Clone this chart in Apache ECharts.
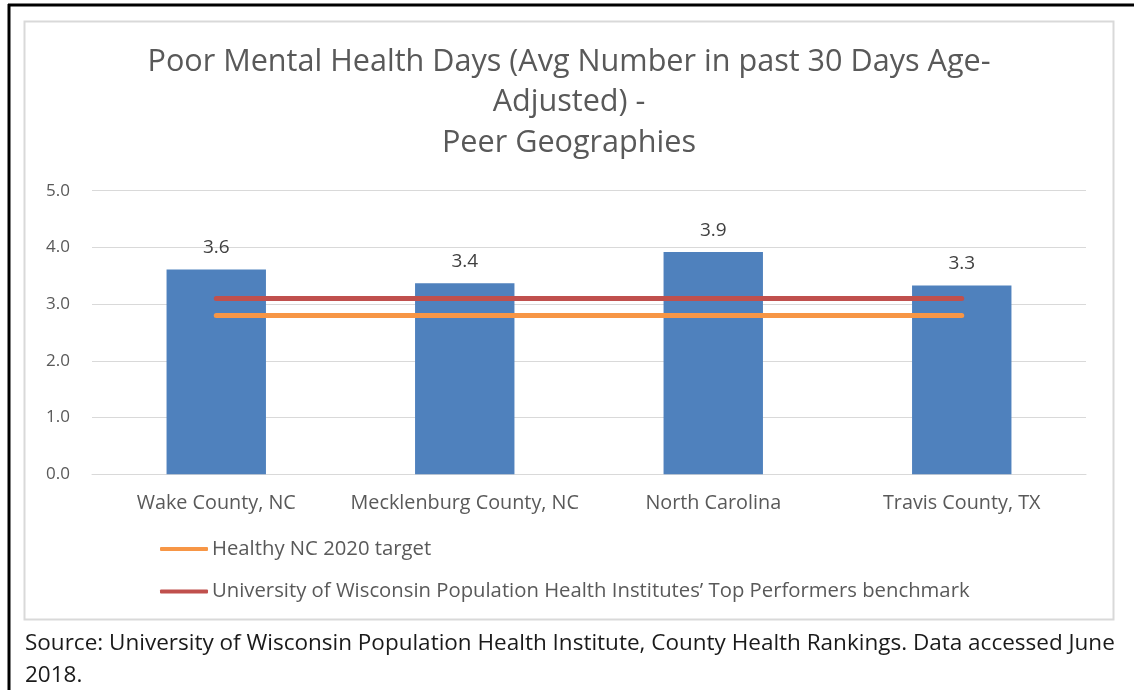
<!DOCTYPE html>
<html>
<head>
<meta charset="utf-8">
<script src="https://cdn.jsdelivr.net/npm/echarts@6/dist/echarts.min.js"></script>
<style>
html,body{margin:0;padding:0;background:#fff;}
#chart{width:1134px;height:690px;}
</style>
</head>
<body>
<div id="chart"></div>
<script>
var categories = ['Wake County, NC', 'Mecklenburg County, NC', 'North Carolina', 'Travis County, TX'];
var mentalHealthDays = [3.61, 3.37, 3.92, 3.33];
var healthyNcTarget = [2.8, 2.8, 2.8, 2.8];
var uwBenchmark = [3.1, 3.1, 3.1, 3.1];
var yTicks = [0, 1, 2, 3, 4, 5];
var titleText = 'Poor Mental Health Days (Avg Number in past 30 Days Age-\nAdjusted) -\nPeer Geographies';
var legendNames = ['Healthy NC 2020 target', 'University of Wisconsin Population Health Institutes\u2019 Top Performers benchmark'];
var sourceText = 'Source: University of Wisconsin Population Health Institute, County Health Rankings. Data accessed June\n2018.';

var FONT = 'Open Sans';
var chart = echarts.init(document.getElementById('chart'), null, {renderer: 'canvas'});
chart.setOption({
  animation: false,
  backgroundColor: '#ffffff',
  title: {
    text: titleText,
    left: 569,
    top: 42,
    padding: 0,
    textAlign: 'center',
    textStyle: {fontFamily: FONT, fontSize: 30.6, fontWeight: 'normal', color: '#595959', lineHeight: 40.5}
  },
  legend: {
    orient: 'vertical',
    left: 160,
    top: 539,
    padding: 0,
    itemWidth: 48,
    itemHeight: 4,
    itemGap: 22.5,
    icon: 'roundRect',
    textStyle: {fontFamily: FONT, fontSize: 20.3, color: '#595959', padding: [0, 0, 0, -1]},
    data: [
      {name: legendNames[0], itemStyle: {color: '#F79646'}},
      {name: legendNames[1], itemStyle: {color: '#C0504D'}}
    ]
  },
  grid: {left: 92, right: 48, top: 190.7, bottom: 215.7, containLabel: false},
  xAxis: {
    type: 'category',
    data: categories,
    axisLine: {show: true, lineStyle: {color: '#D9D9D9', width: 1}},
    axisTick: {show: false},
    axisLabel: {interval: 0, fontFamily: FONT, fontSize: 19.8, color: '#595959', margin: 19}
  },
  yAxis: {
    type: 'value',
    min: yTicks[0],
    max: yTicks[yTicks.length - 1],
    interval: 1,
    axisLine: {show: false},
    axisTick: {show: false},
    splitLine: {lineStyle: {color: '#D9D9D9', width: 1}},
    axisLabel: {fontFamily: FONT, fontSize: 17, color: '#595959', margin: 22, formatter: function (v) { return v.toFixed(1); }}
  },
  series: [
    {
      type: 'bar',
      name: 'Poor Mental Health Days',
      data: mentalHealthDays,
      barWidth: '40%',
      itemStyle: {color: '#4F81BD'},
      label: {show: true, position: 'top', distance: 12, fontFamily: FONT, fontSize: 19, color: '#404040',
        formatter: function (p) { return p.value.toFixed(1); }},
      z: 2
    },
    {
      type: 'line',
      name: legendNames[0],
      data: healthyNcTarget,
      symbol: 'none',
      lineStyle: {color: '#F79646', width: 5, cap: 'round'},
      itemStyle: {color: '#F79646'},
      z: 3
    },
    {
      type: 'line',
      name: legendNames[1],
      data: uwBenchmark,
      symbol: 'none',
      lineStyle: {color: '#C0504D', width: 5, cap: 'round'},
      itemStyle: {color: '#C0504D'},
      z: 3
    }
  ],
  graphic: [
    {type: 'rect', shape: {x: 24.5, y: 21.5, width: 1089, height: 598}, style: {fill: 'none', stroke: '#D9D9D9', lineWidth: 2}, silent: true, z: -1},
    {type: 'line', shape: {x1: 8, y1: 5, x2: 1134, y2: 5}, style: {stroke: '#000', lineWidth: 3}, silent: true},
    {type: 'line', shape: {x1: 9, y1: 4, x2: 9, y2: 690}, style: {stroke: '#000', lineWidth: 3}, silent: true},
    {type: 'text', left: 25, top: 628, style: {text: sourceText, fontFamily: FONT, fontSize: 22.5, lineHeight: 32, fill: '#1a1a1a'}, silent: true}
  ]
});
</script>
</body>
</html>
